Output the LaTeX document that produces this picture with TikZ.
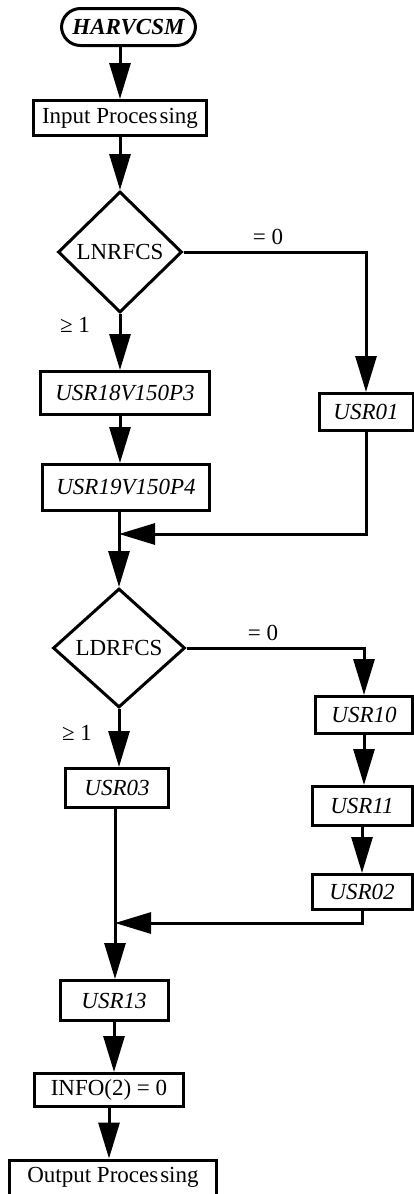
\documentclass[tikz,border=0pt]{standalone}
\usepackage{fontspec}
\setmainfont{Liberation Serif}
\usetikzlibrary{shapes.geometric,arrows.meta}

\begin{document}
\begin{tikzpicture}[x=1pt,y=-1pt,line width=3pt,
  box/.style={draw=black,rectangle,inner sep=0pt,font=\fontsize{23}{27}\selectfont},
  ubox/.style={box,font=\fontsize{23}{27}\selectfont\itshape},
  dec/.style={draw=black,diamond,aspect=1,inner sep=0pt,font=\fontsize{23}{27}\selectfont},
  lbl/.style={inner sep=0pt,font=\fontsize{23}{27}\selectfont},
  flow/.style={-{Triangle[length=36pt,width=21pt]}}]
  \useasboundingbox (0,0) rectangle (414,1194);
  \node[box,font=\fontsize{23}{27}\selectfont\bfseries\itshape,rounded corners=19pt,minimum width=134pt,minimum height=37pt] (harv) at (128.5,27) {HARVCSM};
  \node[box,minimum width=173pt,minimum height=35pt] (inp) at (120,118) {Input Proces\kern2pt sing};
  \node[dec,minimum width=124pt,minimum height=121pt] (lnr) at (120,252) {LNRFCS};
  \node[ubox,minimum width=169pt,minimum height=43pt] (usr18) at (125,393) {USR18V150P3};
  \node[ubox,minimum width=167pt,minimum height=46pt] (usr19) at (126,487.5) {USR19V150P4};
  \node[ubox,minimum width=94pt,minimum height=37pt] (usr01) at (366,412) {USR01};
  \node[dec,minimum width=132pt,minimum height=119pt] (ldr) at (119,648) {LDRFCS};
  \node[ubox,minimum width=97pt,minimum height=37pt] (usr10) at (364,715) {USR10};
  \node[ubox,minimum width=100pt,minimum height=39pt] (usr11) at (362,806) {USR11};
  \node[ubox,minimum width=100pt,minimum height=35pt] (usr02) at (362,892) {USR02};
  \node[ubox,minimum width=103pt,minimum height=39pt] (usr03) at (117,788) {USR03};
  \node[ubox,minimum width=108pt,minimum height=40pt] (usr13) at (114,1000.5) {USR13};
  \node[box,minimum width=149pt,minimum height=33pt] (info) at (109,1090) {INFO(2) = 0};
  \node[box,minimum width=207pt,minimum height=35pt] (outp) at (113,1177.5) {Output Proces\kern2pt sing};
  \node[lbl] (eq1) at (268,237) {= 0};
  \node[lbl] (ge1) at (75,325) {≥ 1};
  \node[lbl] (eq2) at (263,633) {= 0};
  \node[lbl] (ge2) at (77,733) {≥ 1};
  \coordinate (j1) at (119,534);
  \coordinate (j2) at (115,923);
  \draw[flow] (inp.north |- harv.south) -- (inp.north);
  \draw[flow] (inp.south) -- (lnr.north);
  \draw[flow] (lnr.east) -| (usr01.north);
  \draw[flow] (lnr.south) -- (lnr.south |- usr18.north);
  \draw[flow] (lnr.south |- usr18.south) -- (lnr.south |- usr19.north);
  \draw[flow] (j1 |- usr19.south) -- (ldr.north);
  \draw[flow] (usr01.south) |- (j1);
  \draw[flow] (ldr.east) -| (usr10.north);
  \draw[flow] (usr10.south) -- (usr10.south |- usr11.north);
  \draw[flow] (usr11.south) -- (usr11.south |- usr02.north);
  \draw[flow] (ldr.south) -- (ldr.south |- usr03.north);
  \draw[flow] (usr03.south -| j2) -- (j2 |- usr13.north);
  \draw[flow] (usr02.south) |- (j2);
  \draw[flow] (usr13.south) -- (usr13.south |- info.north);
  \draw[flow] (info.south) -- (info.south |- outp.north);
\end{tikzpicture}
\end{document}
